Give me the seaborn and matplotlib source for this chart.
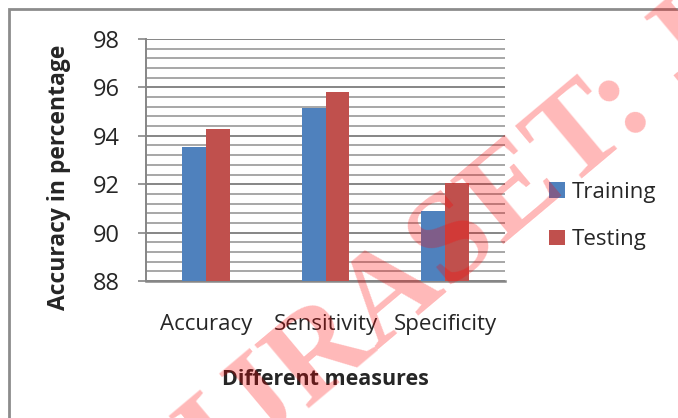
import numpy as np
import pandas as pd
import matplotlib
matplotlib.use('Agg')
import matplotlib.pyplot as plt
from matplotlib.ticker import MultipleLocator
from matplotlib.patches import Rectangle
import seaborn as sns

# Data
measures = ['Accuracy', 'Sensitivity', 'Specificity']
training = [93.52, 95.16, 90.9]
testing = [94.28, 95.81, 92.05]
series_names = ['Training', 'Testing']
y_ticks = [88, 90, 92, 94, 96, 98]

BLUE = '#4F81BD'
RED = '#C0504D'

df = pd.DataFrame({
    'measure': measures * 2,
    'set': [series_names[0]] * len(measures) + [series_names[1]] * len(measures),
    'value': training + testing,
})

sns.set_style('white')
plt.rcParams['font.family'] = ['Open Sans', 'DejaVu Sans']

fig = plt.figure(figsize=(6.78, 4.18), dpi=100)
ax = fig.add_axes([146 / 678, 1 - 281 / 418, 359 / 678, 242 / 418])

sns.barplot(data=df, x='measure', y='value', hue='set', palette=[BLUE, RED],
            width=0.4, saturation=1, ax=ax, legend=True, linewidth=0, zorder=3)

ax.set_ylim(y_ticks[0], y_ticks[-1])
ax.set_xlim(-0.5, len(measures) - 0.5)
ax.set_yticks(y_ticks)
ax.yaxis.set_minor_locator(MultipleLocator(0.4))
ax.grid(axis='y', which='major', color='#868686', linewidth=1.4, zorder=0)
ax.grid(axis='y', which='minor', color='#A0A0A0', linewidth=1.3, zorder=0)
ax.set_axisbelow(True)

for s in ['top', 'right']:
    ax.spines[s].set_visible(False)
ax.spines['left'].set_color('#868686')
ax.spines['left'].set_linewidth(1.4)
ax.spines['bottom'].set_color('#868686')
ax.spines['bottom'].set_linewidth(1.8)

ax.tick_params(axis='y', which='major', length=6, width=1.2, color='#868686',
               pad=13, labelsize=17, left=True)
ax.tick_params(axis='y', which='minor', length=0)
ax.tick_params(axis='x', length=0, pad=24, labelsize=16)

ax.set_xlabel('Different measures', fontsize=15.5, fontweight='bold', labelpad=24)
ax.set_ylabel('Accuracy in percentage', fontsize=16.5, fontweight='bold')
ax.yaxis.set_label_coords(-0.21, 0.43)

handles, labels = ax.get_legend_handles_labels()
ax.legend(handles, labels, loc='center left', bbox_to_anchor=(549 / 678, 1 - 216 / 418),
          bbox_transform=fig.transFigure, frameon=False, fontsize=16,
          handlelength=0.72, handleheight=0.72, handletextpad=0.3, labelspacing=1.2,
          borderpad=0, borderaxespad=0)

# chart area border (Excel style), runs off the right and bottom edges
fig.patches.append(Rectangle((9 / 678, -0.1), 1.2, 1 - 9 / 418 + 0.1,
                             transform=fig.transFigure, fill=False,
                             edgecolor='#8C8C8C', linewidth=2))

# red diagonal watermark over everything
fig.text(476 / 678, 1 - 268 / 418, 'IJRASET: J', fontsize=92, color='red', alpha=0.28,
         family=['Liberation Serif', 'DejaVu Serif'], fontweight='bold', rotation=40,
         rotation_mode='anchor', ha='center', va='baseline', zorder=10)

fig.savefig('out.png', dpi=100)
